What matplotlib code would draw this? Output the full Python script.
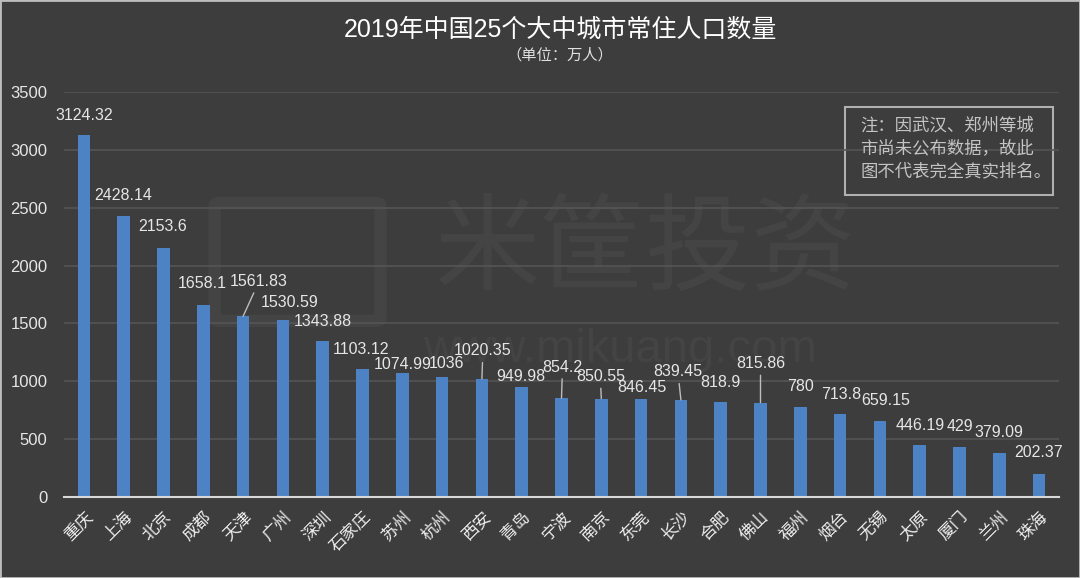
import matplotlib
matplotlib.use('Agg')
import matplotlib.pyplot as plt
from matplotlib.patches import Rectangle, FancyBboxPatch
import numpy as np

plt.rcParams['font.family'] = ['Liberation Sans', 'Noto Sans CJK SC', 'DejaVu Sans']

cities = ['重庆', '上海', '北京', '成都', '天津', '广州', '深圳', '石家庄', '苏州', '杭州',
          '西安', '青岛', '宁波', '南京', '东莞', '长沙', '合肥', '佛山', '福州', '烟台',
          '无锡', '太原', '厦门', '兰州', '珠海']
population = [3124.32, 2428.14, 2153.6, 1658.1, 1561.83, 1530.59, 1343.88, 1103.12, 1074.99, 1036,
              1020.35, 949.98, 854.2, 850.55, 846.45, 839.45, 818.9, 815.86, 780, 713.8,
              659.15, 446.19, 429, 379.09, 202.37]
label_text = ['3124.32', '2428.14', '2153.6', '1658.1', '1561.83', '1530.59', '1343.88', '1103.12',
              '1074.99', '1036', '1020.35', '949.98', '854.2', '850.55', '846.45', '839.45', '818.9',
              '815.86', '780', '713.8', '659.15', '446.19', '429', '379.09', '202.37']
yticks = [0, 500, 1000, 1500, 2000, 2500, 3000, 3500]

# label placement (pixels from bar top) and which labels get a leader line
label_offsets = [(0, 20), (-1, 21), (-1, 21), (-1, 22), (16, 35), (7, 17), (0, 20), (-1, 20),
                 (0, 8), (4, 14), (1, 28), (-1, 11), (1, 31), (-1, 22), (1, 12), (-3, 28),
                 (0, 20), (0, 39), (0, 20), (1, 20), (6, 20), (0, 20), (0, 21), (0, 21), (-1, 21)]
leaders = {'天津', '西安', '宁波', '南京', '长沙', '佛山'}

bg = '#3d3d3d'
fig = plt.figure(figsize=(10.8, 5.78), dpi=100, facecolor=bg)

# faint watermark behind the plot
wm = '#444444'
fig.text(645 / 1080, 1 - 252 / 578, '米筐投资', fontsize=76, color=wm,
         ha='center', va='center', family=['Noto Sans CJK SC'])
fig.text(620 / 1080, 1 - 350 / 578, 'www.mikuang.com', fontsize=34, color=wm,
         ha='center', va='center')
fig.patches.append(FancyBboxPatch((220 / 1080, 1 - 318 / 578), 155 / 1080, 112 / 578,
                                  boxstyle='round,pad=0.005', transform=fig.transFigure,
                                  facecolor='none', edgecolor=wm, linewidth=9))

ax = fig.add_axes([64 / 1080, 81 / 578, 995 / 1080, 405 / 578])
ax.set_facecolor('none')
ax.set_zorder(5)

x = np.arange(len(cities))
ax.bar(x, population, width=0.32, color='#4d83c4', zorder=3)

ax.set_xlim(-0.5, len(cities) - 0.5)
ax.set_ylim(0, 3500)
ax.set_yticks(yticks)
ax.set_yticklabels([str(t) for t in yticks], fontsize=12, color='#e6e6e6')
ax.yaxis.grid(True, color='#555555', linewidth=1.2, zorder=0)
ax.set_axisbelow(True)
ax.set_xticks(x)
ax.set_xticklabels(cities, rotation=45, ha='right', va='top', rotation_mode='anchor',
                   fontsize=12, color='#eeeeee', family=['Noto Sans CJK SC'])
ax.tick_params(axis='both', length=0)
ax.tick_params(axis='y', pad=12)
ax.tick_params(axis='x', pad=8)
for s in ['top', 'right', 'left']:
    ax.spines[s].set_visible(False)
ax.spines['bottom'].set_color('#d8d8d8')
ax.spines['bottom'].set_linewidth(1.5)
ax.spines['bottom'].set_zorder(4)

for i, (v, t, off) in enumerate(zip(population, label_text, label_offsets)):
    props = None
    if cities[i] in leaders:
        props = dict(arrowstyle='-', color='#bdbdbd', lw=1, shrinkA=1, shrinkB=0)
    ax.annotate(t, xy=(i, v), xytext=off, textcoords='offset pixels', ha='center', va='center',
                fontsize=11.5, color='#e6e6e6', arrowprops=props, zorder=5)

fig.text(560 / 1080, 1 - 30 / 578, '2019年中国25个大中城市常住人口数量', fontsize=18,
         color='white', ha='center', va='center')
fig.text(560 / 1080, 1 - 55 / 578, '（单位：万人）', fontsize=11, color='#e0e0e0',
         ha='center', va='center')

# note box
fig.patches.append(Rectangle((845 / 1080, 1 - 195 / 578), 208 / 1080, 88 / 578,
                             transform=fig.transFigure, facecolor=bg, edgecolor='#b0b0b0',
                             linewidth=1.5))
note = fig.text(860 / 1080, 1 - 148 / 578, '注：因武汉、郑州等城\n市尚未公布数据，故此\n图不代表完全真实排名。',
                fontsize=12.5, color='#c4c4c4', ha='left', va='center', linespacing=1.35,
                family=['Noto Sans CJK SC'])
note.set_zorder(10)

# outer frame
fig.patches.append(Rectangle((0, 0), 1, 1, transform=fig.transFigure, facecolor='none',
                             edgecolor='#bdbdbd', linewidth=2))

fig.savefig('out.png', dpi=100, facecolor=bg)
